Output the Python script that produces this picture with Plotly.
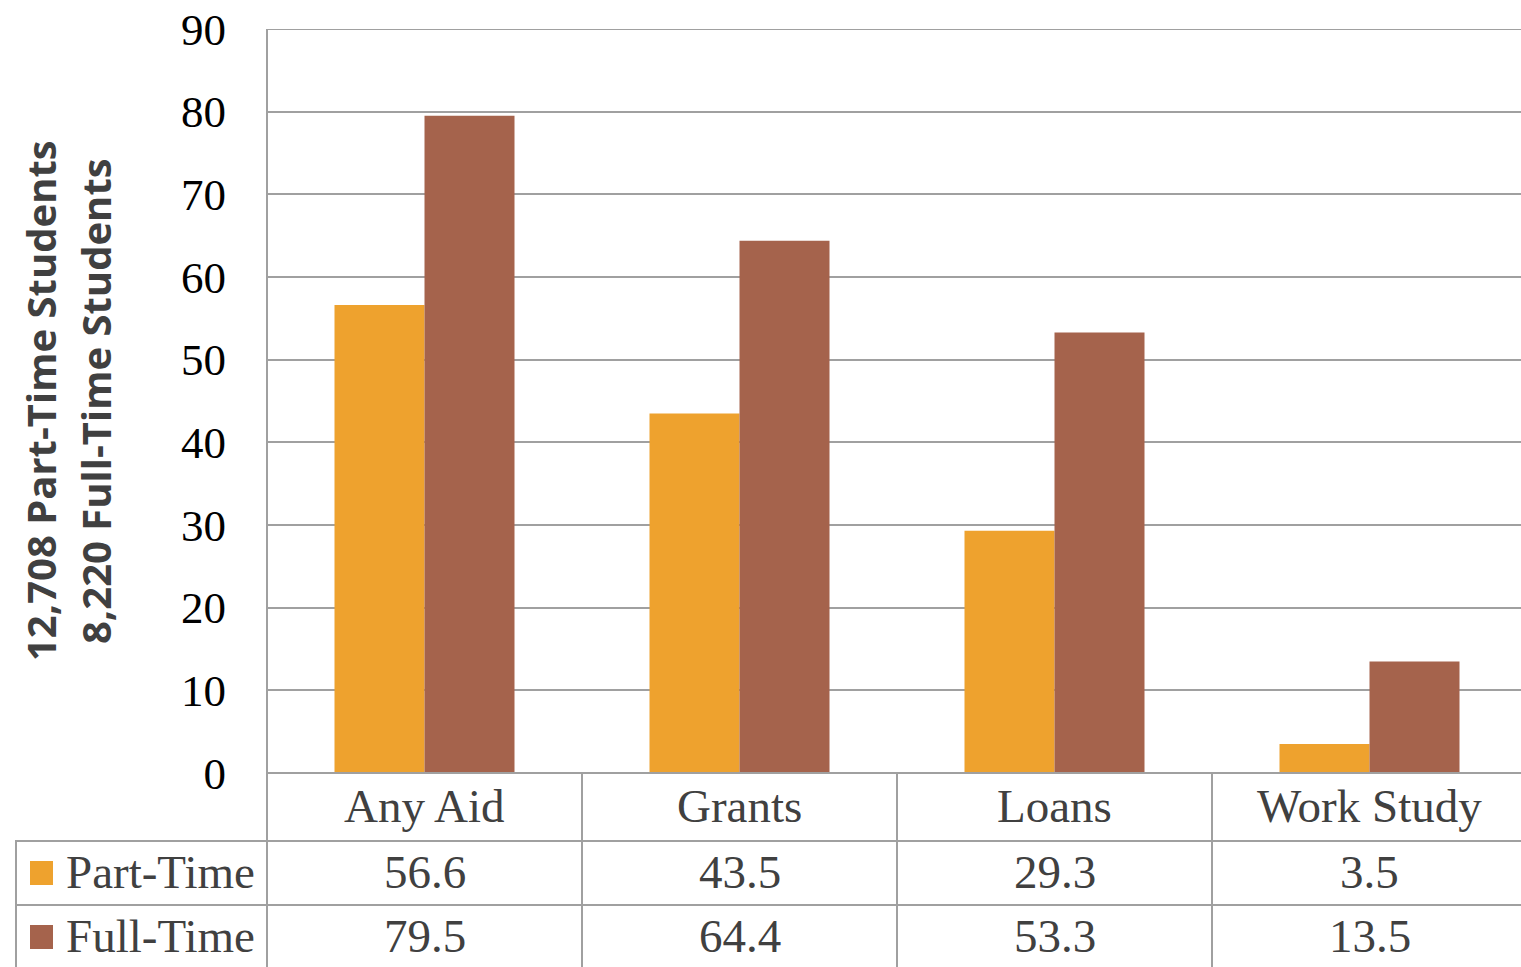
import plotly.graph_objects as go

categories = ["Any Aid", "Grants", "Loans", "Work Study"]
part_time = [56.6, 43.5, 29.3, 3.5]
full_time = [79.5, 64.4, 53.3, 13.5]
series_names = ["Part-Time", "Full-Time"]
y_title_lines = ["12,708 Part-Time Students", "8,220 Full-Time Students"]
y_ticks = [0, 10, 20, 30, 40, 50, 60, 70, 80, 90]

ORANGE = "#EEA22E"
BROWN = "#A5634C"
GRID = "#A0A0A0"
TEXT = "#404040"
SERIF = "Liberation Serif"

W, H = 1521, 967
L, R, T, B = 267, 0, 29, 194
PW = W - L - R
PH = H - T - B
COL = 315.0  # pixel width of each category column


def px(x):
    return (x - L) / PW


def py(y):
    return (H - B - y) / PH


fig = go.Figure()
fig.add_trace(go.Bar(x=categories, y=part_time, name=series_names[0],
                     marker=dict(color=ORANGE, line=dict(width=0))))
fig.add_trace(go.Bar(x=categories, y=full_time, name=series_names[1],
                     marker=dict(color=BROWN, line=dict(width=0))))

shapes = []
lw = 2
# top gridline (at the axis maximum)
shapes.append(dict(type="line", xref="paper", yref="y", x0=0, x1=1,
                   y0=y_ticks[-1], y1=y_ticks[-1], line=dict(color=GRID, width=lw)))
# horizontal table lines
shapes.append(dict(type="line", xref="paper", yref="paper", x0=0, x1=1,
                   y0=py(773), y1=py(773), line=dict(color=GRID, width=lw)))
for yy in (841, 905):
    shapes.append(dict(type="line", xref="paper", yref="paper", x0=px(15), x1=1,
                       y0=py(yy), y1=py(yy), line=dict(color=GRID, width=lw)))
# left axis line
shapes.append(dict(type="line", xref="paper", yref="paper", x0=0, x1=0,
                   y0=1, y1=py(967), line=dict(color=GRID, width=lw)))
# column separators
for i in range(1, len(categories)):
    xx = L + i * COL
    shapes.append(dict(type="line", xref="paper", yref="paper", x0=px(xx), x1=px(xx),
                       y0=py(773), y1=py(967), line=dict(color=GRID, width=lw)))
# legend-column left border
shapes.append(dict(type="line", xref="paper", yref="paper", x0=px(16), x1=px(16),
                   y0=py(841), y1=py(967), line=dict(color=GRID, width=lw)))
# legend keys
for yc, col in ((873, ORANGE), (937, BROWN)):
    shapes.append(dict(type="rect", xref="paper", yref="paper",
                       x0=px(30), x1=px(53), y0=py(yc - 12), y1=py(yc + 12),
                       fillcolor=col, line=dict(width=0)))

annotations = []
tfont = dict(family=SERIF, size=47, color=TEXT)
for i, c in enumerate(categories):
    annotations.append(dict(x=c, xref="x", y=py(806), yref="paper", text=c,
                            showarrow=False, font=tfont, xanchor="center", yanchor="middle"))
    annotations.append(dict(x=c, xref="x", y=py(872), yref="paper", text=f"{part_time[i]}",
                            showarrow=False, font=tfont, xanchor="center", yanchor="middle"))
    annotations.append(dict(x=c, xref="x", y=py(936), yref="paper", text=f"{full_time[i]}",
                            showarrow=False, font=tfont, xanchor="center", yanchor="middle"))
for yc, name in ((872, series_names[0]), (936, series_names[1])):
    annotations.append(dict(x=px(64), xref="paper", y=py(yc), yref="paper", text=name,
                            showarrow=False, font=tfont, xanchor="left", yanchor="middle"))
# y-axis title (two lines)
for xc, line in ((40, y_title_lines[0]), (95, y_title_lines[1])):
    annotations.append(dict(x=px(xc), xref="paper", y=py(401), yref="paper", text=f"<b>{line}</b>",
                            textangle=-90, showarrow=False,
                            font=dict(family="Open Sans", size=40, color=TEXT),
                            xanchor="center", yanchor="middle"))

fig.update_layout(
    width=W, height=H,
    margin=dict(l=L, r=R, t=T, b=B, pad=0),
    paper_bgcolor="white", plot_bgcolor="white",
    barmode="group", bargap=1 - 180 / 315, bargroupgap=0,
    showlegend=False,
    shapes=shapes, annotations=annotations,
    xaxis=dict(range=[-0.5, -0.5 + PW / COL], showticklabels=False, showgrid=False,
               zeroline=False, showline=False, ticks=""),
    yaxis=dict(range=[0, 90], tickvals=y_ticks, showgrid=True, gridcolor=GRID, gridwidth=2,
               zeroline=False, showline=False, ticks="", ticklabelstandoff=40,
               tickfont=dict(family=SERIF, size=45, color="black")),
)

fig.write_html("out.html")
